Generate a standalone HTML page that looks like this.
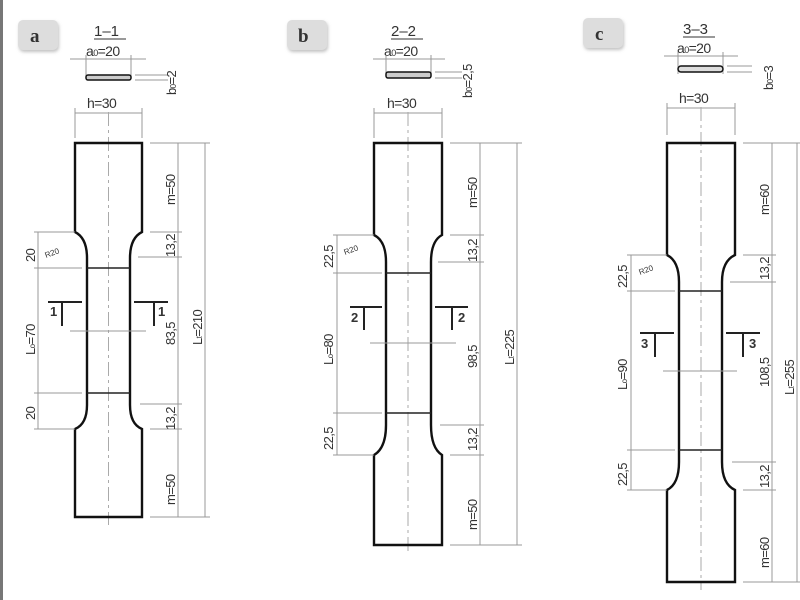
<!DOCTYPE html>
<html><head><meta charset="utf-8"><style>
html,body{margin:0;padding:0;background:#fff;}
svg{display:block;}
text{font-family:"Liberation Sans",sans-serif;fill:#333;}
.d{stroke:#999;stroke-width:1;fill:none;}
.c{stroke:#aaa;stroke-width:1;fill:none;stroke-dasharray:14,4,3,4;}
.s{stroke:#111;stroke-width:2.4;fill:none;}
.g{stroke:#222;stroke-width:1.6;}
.lb{font-size:13px;letter-spacing:-0.6px;}
.t{font-size:15px;}
.a0{font-size:14px;letter-spacing:-0.6px;}
</style></head><body>
<svg width="800" height="600" viewBox="0 0 800 600">
<defs><filter id="sh" x="-20%" y="-20%" width="140%" height="150%"><feDropShadow dx="1" dy="2" stdDeviation="1.5" flood-color="#999" flood-opacity="0.6"/></filter></defs>
<rect x="0" y="0" width="800" height="600" fill="#fff"/>
<rect x="0" y="0" width="3" height="600" fill="#777"/>

<!-- ===== Panel a ===== -->
<rect x="18" y="20" width="40" height="30" rx="5" fill="#ddd" filter="url(#sh)"/>
<text x="30" y="42" style="font-family:'Liberation Serif',serif;font-weight:bold;font-size:19px" fill="#222">a</text>
<text x="94" y="36" class="t">1–1</text>
<line x1="94" y1="39" x2="126" y2="39" stroke="#333"/>
<text x="86" y="56" class="a0">a<tspan font-size="9">0</tspan>=20</text>
<line class="d" x1="70" y1="59" x2="146" y2="59"/>
<line class="d" x1="86" y1="55" x2="86" y2="78"/><line class="d" x1="131" y1="55" x2="131" y2="78"/>
<rect x="86" y="75" width="45" height="5" rx="2" fill="#ccc" stroke="#111" stroke-width="1.5"/>
<line class="d" x1="135" y1="75" x2="168" y2="75"/><line class="d" x1="135" y1="80" x2="168" y2="80"/>
<text transform="translate(176,95) rotate(-90)" class="lb">b<tspan font-size="8">0</tspan>=2</text>
<text x="87" y="108" class="a0">h=30</text>
<line class="d" x1="75" y1="113" x2="142" y2="113"/>
<line class="d" x1="75" y1="108" x2="75" y2="138"/><line class="d" x1="142" y1="108" x2="142" y2="138"/>
<line class="c" x1="108.5" y1="112" x2="108.5" y2="525"/>
<path class="s" d="M75,143 H142 V232 Q130,238 130,258 V405 Q130,424 142,429 V517 H75 V429 Q87,424 87,405 V258 Q87,238 75,232 Z"/>
<line class="g" x1="87" y1="268" x2="130" y2="268"/><line class="g" x1="87" y1="393" x2="130" y2="393"/>
<line class="d" x1="70" y1="331" x2="146" y2="331"/>
<line class="d" x1="150" y1="143" x2="210" y2="143"/><line class="d" x1="150" y1="517" x2="210" y2="517"/>
<line class="d" x1="178" y1="143" x2="178" y2="517"/><line class="d" x1="205" y1="143" x2="205" y2="517"/>
<line class="d" x1="150" y1="232" x2="182" y2="232"/><line class="d" x1="138" y1="257" x2="182" y2="257"/>
<line class="d" x1="140" y1="404" x2="182" y2="404"/><line class="d" x1="150" y1="429" x2="182" y2="429"/>
<text transform="translate(175,205) rotate(-90)" class="lb">m=50</text>
<text transform="translate(175,257) rotate(-90)" class="lb">13,2</text>
<text transform="translate(175,345) rotate(-90)" class="lb">83,5</text>
<text transform="translate(175,430) rotate(-90)" class="lb">13,2</text>
<text transform="translate(175,505) rotate(-90)" class="lb">m=50</text>
<text transform="translate(202,345) rotate(-90)" class="lb">L<tspan font-size="8">t</tspan>=210</text>
<line class="d" x1="38" y1="232" x2="38" y2="429"/>
<line class="d" x1="34" y1="232" x2="75" y2="232"/><line class="d" x1="34" y1="268" x2="82" y2="268"/>
<line class="d" x1="34" y1="393" x2="82" y2="393"/><line class="d" x1="34" y1="429" x2="75" y2="429"/>
<text transform="translate(35,262) rotate(-90)" class="lb">20</text>
<text transform="translate(35,355) rotate(-90)" class="lb">L<tspan font-size="8">o</tspan>=70</text>
<text transform="translate(35,420) rotate(-90)" class="lb">20</text>
<text transform="translate(46,258) rotate(-20)" style="font-size:8px">R20</text>
<g stroke="#222" stroke-width="2"><line x1="48" y1="302" x2="82" y2="302"/><line x1="62" y1="302" x2="62" y2="326"/>
<line x1="134" y1="302" x2="168" y2="302"/><line x1="154" y1="302" x2="154" y2="326"/></g>
<text x="50" y="316" style="font-size:13px;font-weight:bold">1</text>
<text x="158" y="316" style="font-size:13px;font-weight:bold">1</text>

<!-- ===== Panel b ===== -->
<rect x="287" y="20" width="40" height="30" rx="5" fill="#ddd" filter="url(#sh)"/>
<text x="298" y="42" style="font-family:'Liberation Serif',serif;font-weight:bold;font-size:19px" fill="#222">b</text>
<text x="391" y="36" class="t">2–2</text>
<line x1="391" y1="39" x2="423" y2="39" stroke="#333"/>
<text x="384" y="56" class="a0">a<tspan font-size="9">0</tspan>=20</text>
<line class="d" x1="373" y1="59" x2="445" y2="59"/>
<line class="d" x1="386" y1="55" x2="386" y2="76"/><line class="d" x1="431" y1="55" x2="431" y2="76"/>
<rect x="386" y="72" width="45" height="6" rx="2" fill="#ccc" stroke="#111" stroke-width="1.5"/>
<line class="d" x1="435" y1="72" x2="462" y2="72"/><line class="d" x1="435" y1="78" x2="462" y2="78"/>
<text transform="translate(472,98) rotate(-90)" class="lb">b<tspan font-size="8">0</tspan>=2,5</text>
<text x="387" y="108" class="a0">h=30</text>
<line class="d" x1="374" y1="113" x2="442" y2="113"/>
<line class="d" x1="374" y1="108" x2="374" y2="138"/><line class="d" x1="442" y1="108" x2="442" y2="138"/>
<line class="c" x1="408" y1="112" x2="408" y2="553"/>
<path class="s" d="M374,143 H442 V235 Q431,241 431,262 V425 Q431,448 442,455 V545 H374 V455 Q386,448 386,425 V262 Q386,241 374,235 Z"/>
<line class="g" x1="386" y1="273" x2="431" y2="273"/><line class="g" x1="386" y1="413" x2="431" y2="413"/>
<line class="d" x1="370" y1="343" x2="456" y2="343"/>
<line class="d" x1="450" y1="143" x2="522" y2="143"/><line class="d" x1="450" y1="545" x2="522" y2="545"/>
<line class="d" x1="480" y1="143" x2="480" y2="545"/><line class="d" x1="517" y1="143" x2="517" y2="545"/>
<line class="d" x1="450" y1="235" x2="484" y2="235"/><line class="d" x1="438" y1="262" x2="484" y2="262"/>
<line class="d" x1="440" y1="425" x2="484" y2="425"/><line class="d" x1="450" y1="455" x2="484" y2="455"/>
<text transform="translate(477,208) rotate(-90)" class="lb">m=50</text>
<text transform="translate(477,262) rotate(-90)" class="lb">13,2</text>
<text transform="translate(477,368) rotate(-90)" class="lb">98,5</text>
<text transform="translate(477,451) rotate(-90)" class="lb">13,2</text>
<text transform="translate(477,530) rotate(-90)" class="lb">m=50</text>
<text transform="translate(514,365) rotate(-90)" class="lb">L<tspan font-size="8">t</tspan>=225</text>
<line class="d" x1="337" y1="235" x2="337" y2="455"/>
<line class="d" x1="333" y1="235" x2="374" y2="235"/><line class="d" x1="333" y1="273" x2="382" y2="273"/>
<line class="d" x1="333" y1="413" x2="382" y2="413"/><line class="d" x1="333" y1="455" x2="374" y2="455"/>
<text transform="translate(333,268) rotate(-90)" class="lb">22,5</text>
<text transform="translate(333,365) rotate(-90)" class="lb">L<tspan font-size="8">o</tspan>=80</text>
<text transform="translate(333,450) rotate(-90)" class="lb">22,5</text>
<text transform="translate(345,255) rotate(-20)" style="font-size:8px">R20</text>
<g stroke="#222" stroke-width="2"><line x1="350" y1="307" x2="382" y2="307"/><line x1="364" y1="307" x2="364" y2="330"/>
<line x1="435" y1="307" x2="468" y2="307"/><line x1="452" y1="307" x2="452" y2="330"/></g>
<text x="351" y="322" style="font-size:13px;font-weight:bold">2</text>
<text x="458" y="322" style="font-size:13px;font-weight:bold">2</text>

<!-- ===== Panel c ===== -->
<rect x="583" y="18" width="40" height="30" rx="5" fill="#ddd" filter="url(#sh)"/>
<text x="595" y="40" style="font-family:'Liberation Serif',serif;font-weight:bold;font-size:19px" fill="#222">c</text>
<text x="683" y="34" class="t">3–3</text>
<line x1="683" y1="37" x2="715" y2="37" stroke="#333"/>
<text x="677" y="53" class="a0">a<tspan font-size="9">0</tspan>=20</text>
<line class="d" x1="664" y1="56" x2="738" y2="56"/>
<line class="d" x1="678" y1="52" x2="678" y2="74"/><line class="d" x1="723" y1="52" x2="723" y2="74"/>
<rect x="678" y="66" width="45" height="6" rx="3" fill="#ddd" stroke="#111" stroke-width="1.5"/>
<line class="d" x1="727" y1="66" x2="752" y2="66"/><line class="d" x1="727" y1="72" x2="752" y2="72"/>
<text transform="translate(773,90) rotate(-90)" class="lb">b<tspan font-size="8">0</tspan>=3</text>
<text x="679" y="103" class="a0">h=30</text>
<line class="d" x1="667" y1="108" x2="735" y2="108"/>
<line class="d" x1="667" y1="103" x2="667" y2="135"/><line class="d" x1="735" y1="103" x2="735" y2="135"/>
<line class="c" x1="701" y1="107" x2="701" y2="590"/>
<path class="s" d="M667,143 H735 V255 Q722,261 722,282 V462 Q722,484 735,490 V582 H667 V490 Q679,484 679,462 V282 Q679,261 667,255 Z"/>
<line class="g" x1="679" y1="291" x2="722" y2="291"/><line class="g" x1="679" y1="450" x2="722" y2="450"/>
<line class="d" x1="663" y1="371" x2="737" y2="371"/>
<line class="d" x1="743" y1="143" x2="803" y2="143"/><line class="d" x1="743" y1="582" x2="803" y2="582"/>
<line class="d" x1="772" y1="143" x2="772" y2="582"/><line class="d" x1="797" y1="143" x2="797" y2="582"/>
<line class="d" x1="743" y1="255" x2="776" y2="255"/><line class="d" x1="730" y1="282" x2="776" y2="282"/>
<line class="d" x1="732" y1="462" x2="776" y2="462"/><line class="d" x1="743" y1="490" x2="776" y2="490"/>
<text transform="translate(769,215) rotate(-90)" class="lb">m=60</text>
<text transform="translate(769,280) rotate(-90)" class="lb">13,2</text>
<text transform="translate(769,387) rotate(-90)" class="lb">108,5</text>
<text transform="translate(769,488) rotate(-90)" class="lb">13,2</text>
<text transform="translate(769,568) rotate(-90)" class="lb">m=60</text>
<text transform="translate(794,395) rotate(-90)" class="lb">L<tspan font-size="8">t</tspan>=255</text>
<line class="d" x1="631" y1="255" x2="631" y2="490"/>
<line class="d" x1="627" y1="255" x2="667" y2="255"/><line class="d" x1="627" y1="291" x2="675" y2="291"/>
<line class="d" x1="627" y1="450" x2="675" y2="450"/><line class="d" x1="627" y1="490" x2="667" y2="490"/>
<text transform="translate(627,288) rotate(-90)" class="lb">22,5</text>
<text transform="translate(627,390) rotate(-90)" class="lb">L<tspan font-size="8">o</tspan>=90</text>
<text transform="translate(627,486) rotate(-90)" class="lb">22,5</text>
<text transform="translate(640,275) rotate(-20)" style="font-size:8px">R20</text>
<g stroke="#222" stroke-width="2"><line x1="640" y1="333" x2="674" y2="333"/><line x1="655" y1="333" x2="655" y2="357"/>
<line x1="726" y1="333" x2="760" y2="333"/><line x1="743" y1="333" x2="743" y2="357"/></g>
<text x="641" y="348" style="font-size:13px;font-weight:bold">3</text>
<text x="749" y="348" style="font-size:13px;font-weight:bold">3</text>
</svg>
</body></html>
